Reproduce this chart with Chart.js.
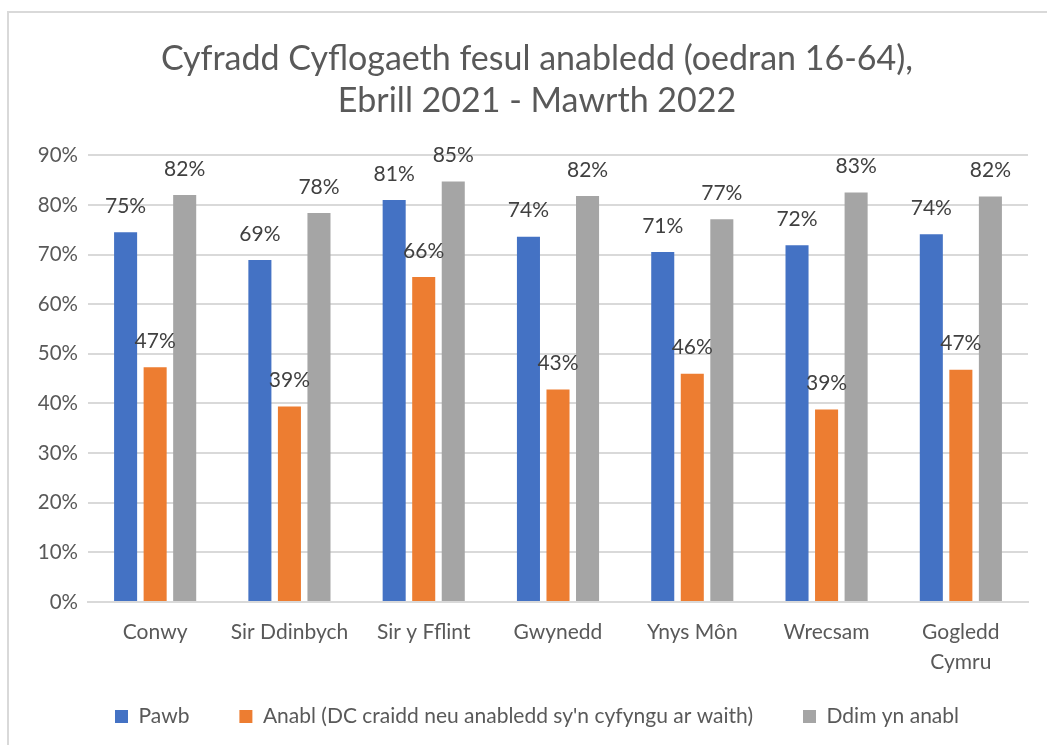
<!DOCTYPE html>
<html>
<head>
<meta charset="utf-8">
<script src="https://cdn.jsdelivr.net/npm/chart.js@4"></script>
<style>
  html, body { margin: 0; padding: 0; background: #fff; }
  #wrap { position: relative; width: 1047px; height: 745px; }
  #frame { position: absolute; left: 7px; top: 11px; right: -5px; bottom: -5px;
           border-left: 2px solid #d9d9d9; border-top: 2px solid #d9d9d9; }
  canvas { position: absolute; left: 0; top: 0; }
</style>
</head>
<body>
<div id="wrap">
  <div id="frame"></div>
  <canvas id="chart" width="1047" height="745"></canvas>
</div>
<script>
// === Data ===
const categories = ["Conwy", "Sir Ddinbych", "Sir y Fflint", "Gwynedd", "Ynys Môn", "Wrecsam", ["Gogledd", "Cymru"]];
const pawb = [74.5, 68.9, 81.0, 73.6, 70.5, 71.9, 74.1];
const anabl = [47.3, 39.4, 65.5, 42.8, 46.0, 38.8, 46.8];
const ddimAnabl = [82.0, 78.4, 84.7, 81.8, 77.1, 82.5, 81.7];
const seriesNames = ["Pawb", "Anabl (DC craidd neu anabledd sy'n cyfyngu ar waith)", "Ddim yn anabl"];
const yTicks = [0, 10, 20, 30, 40, 50, 60, 70, 80, 90];

const FONT = "Lato, 'Open Sans', sans-serif";

// === Label di atas bar ===
const barLabels = {
  id: "barLabels",
  afterDatasetsDraw(chart) {
    const ctx = chart.ctx;
    ctx.save();
    ctx.font = "21px " + FONT;
    ctx.fillStyle = "#404040";
    ctx.textAlign = "center";
    ctx.textBaseline = "middle";
    chart.data.datasets.forEach((ds, i) => {
      chart.getDatasetMeta(i).data.forEach((bar, j) => {
        ctx.fillText(Math.round(ds.data[j]) + "%", bar.x, bar.y - 26);
      });
    });
    ctx.restore();
  }
};

// label sumbu x dua baris jangan terpotong
const unclipX = {
  id: "unclipX",
  afterLayout(chart) {
    chart.scales.x.bottom = chart.height;
  }
};

const ctx = document.getElementById("chart").getContext("2d");
new Chart(ctx, {
  type: "bar",
  data: {
    labels: categories,
    datasets: [
      { label: seriesNames[0], data: pawb, backgroundColor: "#4472c4" },
      { label: seriesNames[1], data: anabl, backgroundColor: "#ed7d31" },
      { label: seriesNames[2], data: ddimAnabl, backgroundColor: "#a5a5a5" }
    ]
  },
  options: {
    responsive: false,
    animation: false,
    layout: { padding: { left: 32, right: 5, top: 0, bottom: 8 } },
    datasets: { bar: { categoryPercentage: 0.66, barPercentage: 0.78 } },
    plugins: {
      title: {
        display: true,
        text: ["Cyfradd Cyflogaeth fesul anabledd (oedran 16-64),", "Ebrill 2021 - Mawrth 2022"],
        color: "#595959",
        font: { family: FONT, size: 34, weight: "normal", lineHeight: 1.24 },
        padding: { top: 38, bottom: 33 }
      },
      legend: {
        position: "bottom",
        labels: {
          color: "#595959",
          font: { family: FONT, size: 21 },
          boxWidth: 13,
          boxHeight: 13,
          padding: 50
        }
      },
      tooltip: { enabled: false }
    },
    scales: {
      x: {
        grid: { display: false, drawTicks: false },
        border: { color: "#d9d9d9", width: 2 },
        ticks: { color: "#595959", font: { family: FONT, size: 21, lineHeight: 1.4 }, padding: 16, maxRotation: 0, autoSkip: false },
        afterFit(scale) { scale.height = 54; }
      },
      y: {
        min: 0,
        max: 90,
        afterBuildTicks(scale) { scale.ticks = yTicks.map(v => ({ value: v })); },
        grid: { color: "#d9d9d9", lineWidth: 2, drawTicks: false },
        border: { display: false },
        ticks: {
          color: "#595959",
          font: { family: FONT, size: 20.5 },
          padding: 10,
          callback: v => v + "%"
        },
        afterFit(scale) { scale.width = 56; }
      },
      y2: {
        position: "right",
        grid: { display: false },
        border: { display: false },
        ticks: { display: false },
        afterFit(scale) { scale.width = 14; }
      }
    }
  },
  plugins: [barLabels, unclipX]
});
</script>
</body>
</html>
